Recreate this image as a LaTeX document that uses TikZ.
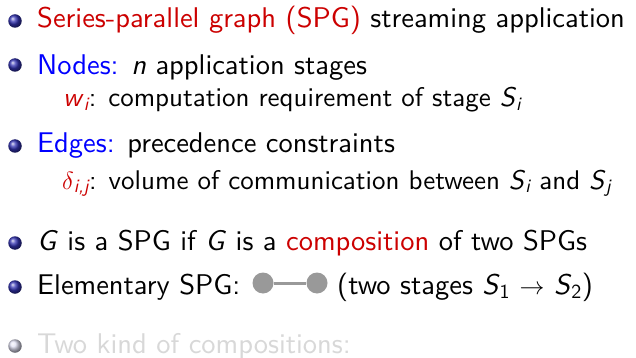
\documentclass[tikz,border=0pt]{standalone}
\usepackage{amsmath}
\usepackage{fontspec}
\setsansfont{lmsans10-regular.otf}[ItalicFont=lmsans10-oblique.otf]
\usetikzlibrary{shadings}
\definecolor{bred}{RGB}{204,0,0}
\definecolor{bblue}{RGB}{0,0,255}
\definecolor{ballc}{rgb}{0.2,0.2,0.7}
\definecolor{fadetxt}{RGB}{216,216,216}
\definecolor{nodegray}{RGB}{153,153,153}
\newcommand{\mi}[1]{\textit{#1}}
\newcommand{\sub}[1]{$_{\text{\sffamily #1}}$}
\newcommand{\rd}[1]{{\color{bred}#1}}
\newcommand{\bl}[1]{{\color{bblue}#1}}
\begin{document}
\begin{tikzpicture}[x=1pt,y=-1pt,
  txt/.style={anchor=base west,inner sep=0pt,font=\sffamily\fontsize{28.5}{34}\selectfont},
  subtxt/.style={anchor=base west,inner sep=0pt,font=\sffamily\fontsize{27}{32}\selectfont},
  bul/.style={circle,inner sep=0pt,minimum size=13.5pt,shading=ball,ball color=ballc},
  fbul/.style={circle,inner sep=0pt,minimum size=13.5pt,shading=ball,ball color=ballc!15!white},
  gnode/.style={circle,fill=nodegray,inner sep=0pt,minimum size=21pt}]
\useasboundingbox (0,0) rectangle (636,358);
\fill[white] (0,0) rectangle (636,358);
\node[bul] (b1) at (15,21) {};
\node[txt] (t1) at (37,28) {\rd{Series-parallel graph (SPG)} streaming application};
\node[bul] (b2) at (15,65) {};
\node[txt] (t2) at (37,75) {\bl{Nodes:} \mi{n} application stages};
\node[subtxt] (t3) at (63,107) {\rd{\mi{w}\sub{\itshape i}}: computation requirement of stage \mi{S}\sub{\itshape i}};
\node[bul] (b4) at (15,146) {};
\node[txt] (t4) at (37,153) {\bl{Edges:} precedence constraints};
\node[subtxt] (t5) at (62,189) {\rd{$\delta$\sub{\itshape i,j}}: volume of communication between \mi{S}\sub{\itshape i} and \mi{S}\sub{\itshape j}};
\node[bul] (b6) at (15,243) {};
\node[txt] (t6) at (37,250) {\mi{G} is a SPG if \mi{G} is a \rd{composition} of two SPGs};
\node[bul] (b7) at (15,287) {};
\node[txt] (t7) at (37,294) {Elementary SPG:};
\node[gnode] (g1) at (263,283) {};
\node[gnode] (g2) at (317,283) {};
\draw[nodegray,line width=3pt] (g1) -- (g2);
\node[txt] (t8) at (337,294) {(two stages \mi{S}\sub{1} $\rightarrow$ \mi{S}\sub{2})};
\node[fbul] (b9) at (15,346) {};
\node[txt,text=fadetxt] (t9) at (37,353) {Two kind of compositions:};
\end{tikzpicture}
\end{document}
